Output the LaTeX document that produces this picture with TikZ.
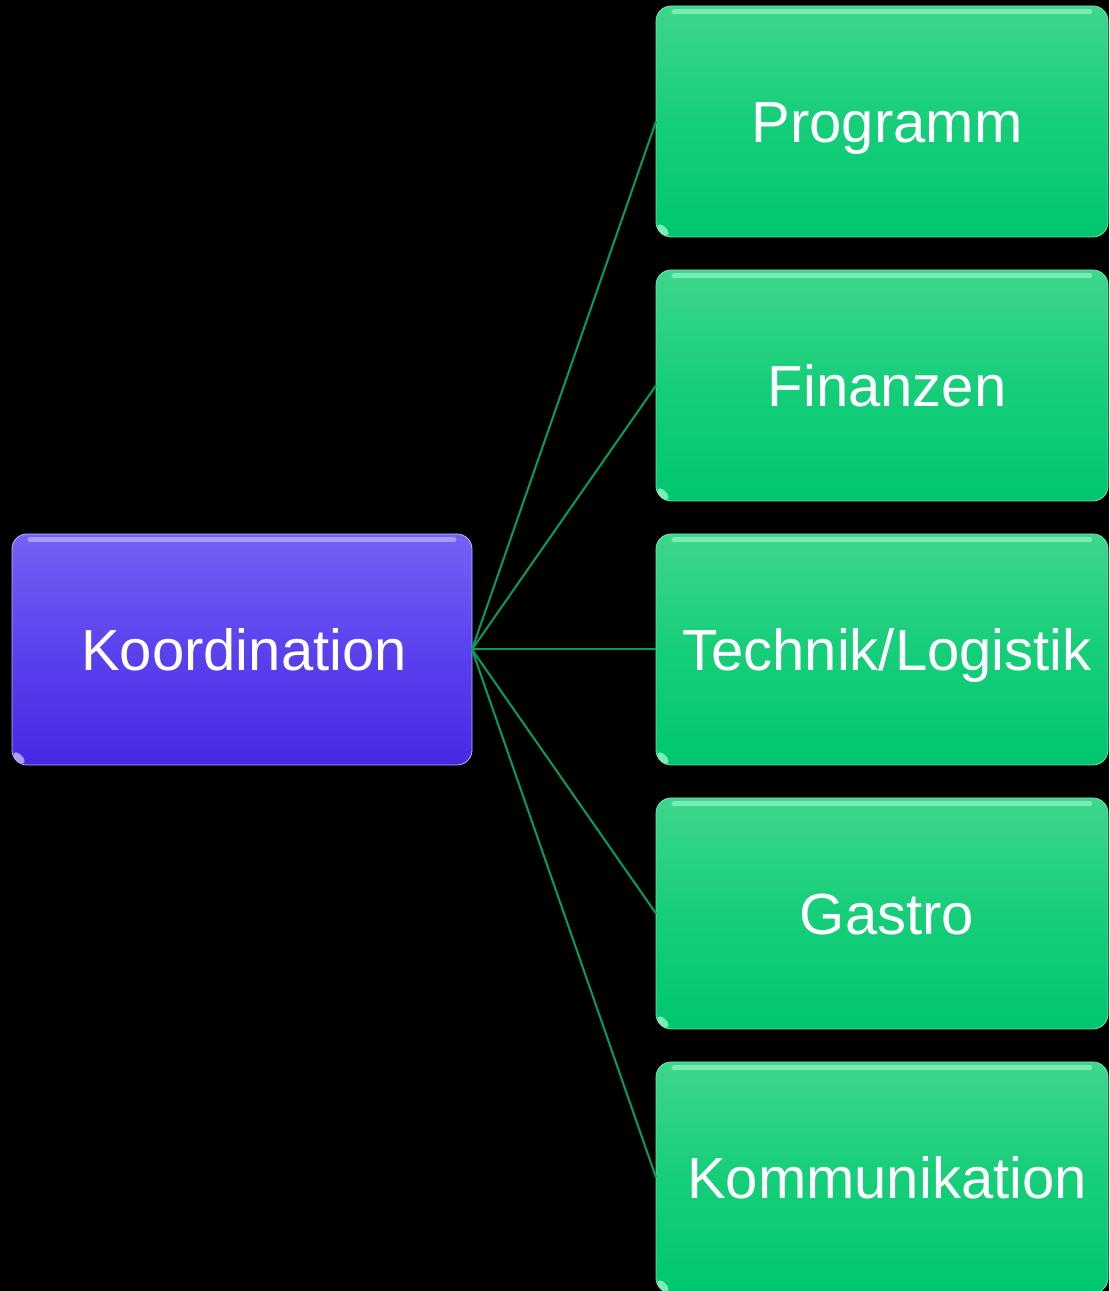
\documentclass[tikz,border=0pt]{standalone}
\usepackage{fontspec}
\setmainfont{Liberation Sans}
\definecolor{gtop}{RGB}{62,214,140}
\definecolor{gmid}{RGB}{22,206,122}
\definecolor{gbot}{RGB}{0,198,112}
\definecolor{gedge}{RGB}{140,245,195}
\definecolor{ptop}{RGB}{116,98,246}
\definecolor{pmid}{RGB}{90,66,238}
\definecolor{pbot}{RGB}{72,40,228}
\definecolor{pedge}{RGB}{190,180,255}
\definecolor{linkc}{RGB}{0,160,92}
\begin{document}
\begin{tikzpicture}[x=1pt,y=1pt,
  boxbase/.style={rectangle, rounded corners=15pt, inner sep=0pt, outer sep=0pt,
    text=white, font=\fontsize{58}{64}\selectfont, text height=41.5pt, text depth=0pt},
  greenbox/.style={boxbase, minimum width=452pt, minimum height=231pt,
    top color=gtop, bottom color=gbot, middle color=gmid, draw=gtop!70!white, line width=0.8pt},
  purplebox/.style={boxbase, minimum width=460pt, minimum height=231pt,
    top color=ptop, bottom color=pbot, middle color=pmid, draw=pedge, line width=0.8pt},
  link/.style={draw=linkc, line width=2pt},
  gshine/.style={draw=gedge, line width=5pt, line cap=round, opacity=0.75},
  pshine/.style={draw=pedge, line width=5pt, line cap=round, opacity=0.7}
]
\fill[black] (0,0) rectangle (1109,1291);
\useasboundingbox (0,0) rectangle (1109,1291);

\node[purplebox] (koord) at (242,641.5) {\hspace*{4pt}Koordination};
\node[greenbox] (prog) at (882,1169.5) {\hspace*{10pt}Programm};
\node[greenbox] (fin) at (882,905.5) {\hspace*{10pt}Finanzen};
\node[greenbox] (tech) at (882,641.5) {\hspace*{10pt}Technik/Logistik};
\node[greenbox] (gastro) at (882,377.5) {\hspace*{10pt}Gastro};
\node[greenbox] (komm) at (882,113.5) {\hspace*{10pt}Kommunikation};

\foreach \n in {prog,fin,tech,gastro,komm}{
  \draw[gshine] ([xshift=18pt,yshift=-6pt]\n.north west) -- ([xshift=-18pt,yshift=-6pt]\n.north east);
  \fill[gedge, opacity=0.85] ([xshift=7pt,yshift=7pt]\n.south west) ellipse [x radius=7pt, y radius=3.5pt, rotate=-45];
}
\draw[pshine] ([xshift=18pt,yshift=-6pt]koord.north west) -- ([xshift=-18pt,yshift=-6pt]koord.north east);
\fill[pedge, opacity=0.85] ([xshift=7pt,yshift=7pt]koord.south west) ellipse [x radius=7pt, y radius=3.5pt, rotate=-45];

\foreach \n in {prog,fin,tech,gastro,komm}{
  \draw[link] (koord.east) -- (\n.west);
}
\end{tikzpicture}
\end{document}
